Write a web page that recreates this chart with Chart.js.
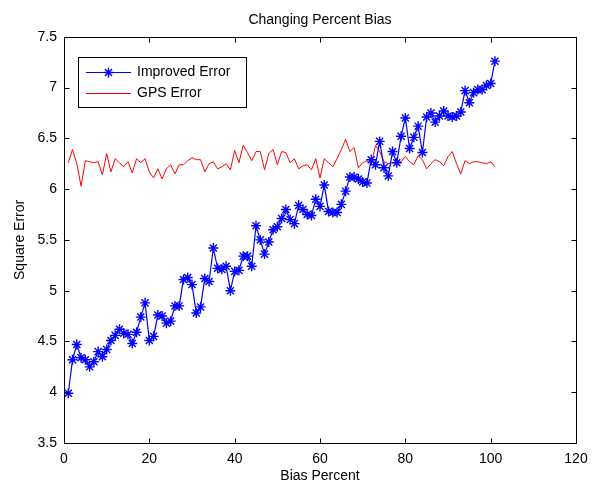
<!DOCTYPE html>
<html lang="en">
<head>
<meta charset="UTF-8">
<title>Changing Percent Bias</title>
<style>
  html, body { margin: 0; padding: 0; background: #fff; }
</style>
</head>
<body>
<canvas id="myChart" width="603" height="487"></canvas>

<script src="https://cdn.jsdelivr.net/npm/chart.js"></script>
<script>
// Bias percent (x) for every sample
const biasPercent = [
  1, 2, 3, 4, 5, 6, 7, 8, 9, 10,
  11, 12, 13, 14, 15, 16, 17, 18, 19, 20,
  21, 22, 23, 24, 25, 26, 27, 28, 29, 30,
  31, 32, 33, 34, 35, 36, 37, 38, 39, 40,
  41, 42, 43, 44, 45, 46, 47, 48, 49, 50,
  51, 52, 53, 54, 55, 56, 57, 58, 59, 60,
  61, 62, 63, 64, 65, 66, 67, 68, 69, 70,
  71, 72, 73, 74, 75, 76, 77, 78, 79, 80,
  81, 82, 83, 84, 85, 86, 87, 88, 89, 90,
  91, 92, 93, 94, 95, 96, 97, 98, 99, 100,
  101
];

const improvedError = [
  3.99, 4.32, 4.47, 4.34, 4.32, 4.25, 4.30, 4.40, 4.35, 4.42,
  4.51, 4.56, 4.62, 4.58, 4.57, 4.48, 4.59, 4.74, 4.88, 4.51,
  4.55, 4.76, 4.75, 4.68, 4.70, 4.85, 4.85, 5.11, 5.13, 5.06,
  4.78, 4.84, 5.12, 5.09, 5.42, 5.22, 5.21, 5.24, 5.00, 5.19,
  5.20, 5.34, 5.34, 5.24, 5.64, 5.50, 5.36, 5.48, 5.60, 5.63,
  5.71, 5.80, 5.70, 5.66, 5.84, 5.80, 5.75, 5.74, 5.90, 5.83,
  6.04, 5.78, 5.77, 5.77, 5.85, 5.98, 6.12, 6.12, 6.10, 6.07,
  6.06, 6.29, 6.24, 6.47, 6.21, 6.13, 6.37, 6.26, 6.52, 6.70,
  6.40, 6.51, 6.62, 6.36, 6.71, 6.75, 6.66, 6.72, 6.77, 6.72,
  6.71, 6.72, 6.76, 6.97, 6.85, 6.95, 6.98, 6.98, 7.02, 7.04,
  7.26
];

const gpsError = [
  6.26, 6.39, 6.25, 6.03, 6.28, 6.27, 6.26, 6.27, 6.14, 6.35,
  6.17, 6.30, 6.26, 6.22, 6.27, 6.16, 6.30, 6.26, 6.30, 6.17,
  6.11, 6.20, 6.10, 6.20, 6.24, 6.15, 6.24, 6.24, 6.28, 6.31,
  6.29, 6.29, 6.17, 6.25, 6.27, 6.20, 6.22, 6.25, 6.19, 6.38,
  6.26, 6.43, 6.36, 6.28, 6.37, 6.37, 6.19, 6.35, 6.39, 6.24,
  6.37, 6.36, 6.26, 6.30, 6.20, 6.23, 6.24, 6.19, 6.30, 6.11,
  6.30, 6.26, 6.22, 6.30, 6.39, 6.49, 6.37, 6.41, 6.21, 6.26,
  6.28, 6.24, 6.43, 6.37, 6.27, 6.25, 6.26, 6.27, 6.27, 6.32,
  6.27, 6.24, 6.33, 6.29, 6.20, 6.25, 6.29, 6.27, 6.23, 6.32,
  6.37, 6.25, 6.15, 6.28, 6.25, 6.27, 6.27, 6.26, 6.25, 6.27,
  6.22
];

const xTicks = [0, 20, 40, 60, 80, 100, 120];
const yTicks = [3.5, 4, 4.5, 5, 5.5, 6, 6.5, 7, 7.5];

const toPoints = ys => biasPercent.map((x, i) => ({ x: x, y: ys[i] }));

Chart.defaults.font.family = '"Liberation Sans", Arial, sans-serif';
Chart.defaults.color = '#000';

// box round the plot with inward ticks, matlab style
const matlabAxes = {
  id: 'matlabAxes',
  afterDatasetsDraw(chart) {
    const { ctx, chartArea: a, scales } = chart;
    const L = Math.round(a.left) + 0.5, R = Math.round(a.right) + 0.5;
    const T = Math.round(a.top) + 0.5, B = Math.round(a.bottom) + 0.5;
    ctx.save();
    ctx.strokeStyle = '#000';
    ctx.lineWidth = 1;
    ctx.strokeRect(L, T, R - L, B - T);
    ctx.beginPath();
    xTicks.forEach(v => {
      const px = Math.round(scales.x.getPixelForValue(v)) + 0.5;
      ctx.moveTo(px, B); ctx.lineTo(px, B - 5);
      ctx.moveTo(px, T); ctx.lineTo(px, T + 5);
    });
    yTicks.forEach(v => {
      const py = Math.round(scales.y.getPixelForValue(v)) + 0.5;
      ctx.moveTo(L, py); ctx.lineTo(L + 5, py);
      ctx.moveTo(R, py); ctx.lineTo(R - 5, py);
    });
    ctx.stroke();
    ctx.restore();
  }
};

// legend box inside the top left of the plot
const boxLegend = {
  id: 'boxLegend',
  afterDraw(chart) {
    const ctx = chart.ctx;
    const left = 78.5, top = 57.5, w = 168, h = 50;
    ctx.save();
    ctx.fillStyle = '#fff';
    ctx.fillRect(left, top, w, h);
    ctx.strokeStyle = '#000';
    ctx.lineWidth = 1;
    ctx.strokeRect(left, top, w, h);
    ctx.font = '14px "Liberation Sans", Arial, sans-serif';
    ctx.textBaseline = 'middle';
    chart.data.datasets.forEach((ds, i) => {
      const y = 72.5 + i * 21;
      ctx.strokeStyle = ds.borderColor;
      ctx.lineWidth = ds.borderWidth;
      ctx.beginPath();
      ctx.moveTo(86, y); ctx.lineTo(131, y);
      ctx.stroke();
      if (ds.pointRadius > 0) {
        const cx = 108.5, r = 5, d = r * Math.SQRT1_2;
        ctx.lineWidth = ds.pointBorderWidth;
        ctx.beginPath();
        ctx.moveTo(cx - r, y); ctx.lineTo(cx + r, y);
        ctx.moveTo(cx, y - r); ctx.lineTo(cx, y + r);
        ctx.moveTo(cx - d, y - d); ctx.lineTo(cx + d, y + d);
        ctx.moveTo(cx - d, y + d); ctx.lineTo(cx + d, y - d);
        ctx.stroke();
      }
      ctx.fillStyle = '#000';
      ctx.fillText(ds.label, 137, y);
    });
    ctx.restore();
  }
};

new Chart(document.getElementById('myChart'), {
  type: 'line',
  data: {
    datasets: [{
      label: 'Improved Error',
      data: toPoints(improvedError),
      borderColor: '#0000ff',
      backgroundColor: '#0000ff',
      borderWidth: 1.2,
      pointStyle: 'star',
      pointRadius: 5,
      pointBorderWidth: 1.4,
      pointBorderColor: '#0000ff',
      tension: 0
    }, {
      label: 'GPS Error',
      data: toPoints(gpsError),
      borderColor: '#ff0000',
      backgroundColor: '#ff0000',
      borderWidth: 1,
      pointRadius: 0,
      tension: 0
    }]
  },
  options: {
    responsive: false,
    animation: false,
    layout: { padding: { left: 0, right: 27, top: 0, bottom: 0 } },
    plugins: {
      legend: { display: false },
      tooltip: { enabled: false },
      title: {
        display: true,
        text: 'Changing Percent Bias',
        fullSize: false,
        color: '#000',
        font: { size: 14, weight: 'normal' },
        padding: { top: 12, bottom: 8 }
      }
    },
    scales: {
      x: {
        type: 'linear',
        min: 0,
        max: 120,
        afterFit: s => { s.height = 44; },
        afterBuildTicks: s => { s.ticks = xTicks.map(v => ({ value: v })); },
        grid: { display: false, drawTicks: false },
        border: { display: false },
        ticks: { padding: 8, font: { size: 14 }, maxRotation: 0 },
        title: { display: true, text: 'Bias Percent', font: { size: 14 }, padding: 2 }
      },
      y: {
        min: 3.5,
        max: 7.5,
        afterFit: s => { s.width = 64; },
        afterBuildTicks: s => { s.ticks = yTicks.map(v => ({ value: v })); },
        grid: { display: false, drawTicks: false },
        border: { display: false },
        ticks: { padding: 7, font: { size: 14 }, callback: v => String(v) },
        title: { display: true, text: 'Square Error', font: { size: 14 }, padding: 12 }
      }
    }
  },
  plugins: [matlabAxes, boxLegend]
});
</script>
</body>
</html>
